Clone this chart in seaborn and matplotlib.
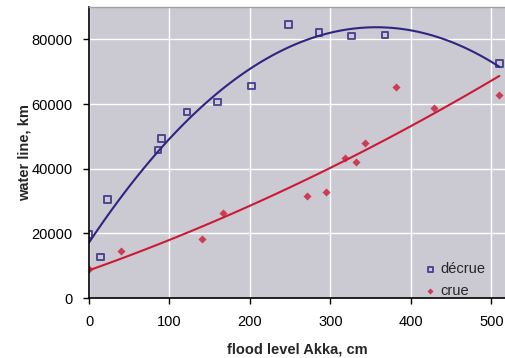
import matplotlib
matplotlib.use("Agg")
import matplotlib.pyplot as plt
import seaborn as sns
import numpy as np

# Data
decrue_x = [0, 14, 23, 86, 90, 122, 160, 202, 248, 286, 326, 368, 510]
decrue_y = [19700, 12700, 30500, 45700, 49300, 57600, 60600, 65500, 84600, 82100, 81100, 81400, 72500]
crue_x = [0, 40, 140, 166, 271, 294, 318, 332, 343, 381, 429, 510]
crue_y = [9100, 14600, 18200, 26400, 31600, 32800, 43300, 42000, 47900, 65200, 58900, 62700]

x_ticks = [0, 100, 200, 300, 400, 500]
y_ticks = [0, 20000, 40000, 60000, 80000]

blue = "#2e2583"
red = "#cc1a35"

sns.set_theme(style="darkgrid")
plt.rcParams["font.family"] = ["Liberation Sans", "DejaVu Sans"]

fig = plt.figure(figsize=(5.05, 3.58), dpi=100)
ax = fig.add_axes([89 / 505, 1 - 298 / 358, (505 - 89) / 505, (298 - 7) / 358])
ax.set_facecolor("#cbcad2")
ax.grid(True, color="white", linewidth=1.0)

sns.regplot(x=decrue_x, y=decrue_y, order=2, ci=None, ax=ax, label="décrue",
            marker="s", color=blue,
            scatter_kws=dict(s=22, facecolors="none", edgecolors=blue, linewidths=1.4),
            line_kws=dict(linewidth=1.5, color=blue))
sns.regplot(x=crue_x, y=crue_y, order=2, ci=None, ax=ax, label="crue",
            marker="D", color=red,
            scatter_kws=dict(s=17, color=red, linewidths=0),
            line_kws=dict(linewidth=1.5, color=red))

ax.set_xlim(0, 517)
ax.set_ylim(0, 90000)
ax.set_xticks(x_ticks)
ax.set_yticks(y_ticks)
ax.tick_params(axis="both", labelsize=10.5, colors="black", length=4, width=1,
               direction="out", pad=8)
ax.tick_params(axis="both", which="both", bottom=True, left=True)
for s in ["left", "bottom"]:
    ax.spines[s].set_visible(True)
    ax.spines[s].set_color("black")
    ax.spines[s].set_linewidth(1.2)
ax.spines["top"].set_visible(True)
ax.spines["top"].set_color("#a0a0a0")
ax.spines["top"].set_linewidth(1.0)
ax.spines["right"].set_visible(False)

ax.set_xlabel("flood level Akka, cm", fontsize=10.5, fontweight="bold", labelpad=10)
ax.set_ylabel("water line, km", fontsize=10.5, fontweight="bold", labelpad=0)

handles, labels = ax.get_legend_handles_labels()
ax.legend(handles[:2], labels[:2], loc="lower right", bbox_to_anchor=(0.985, -0.045),
          frameon=False, fontsize=10.5, handletextpad=0.2, labelspacing=0.55,
          handlelength=1.0, markerscale=0.75)

fig.savefig("out.png", dpi=100, facecolor="white")
